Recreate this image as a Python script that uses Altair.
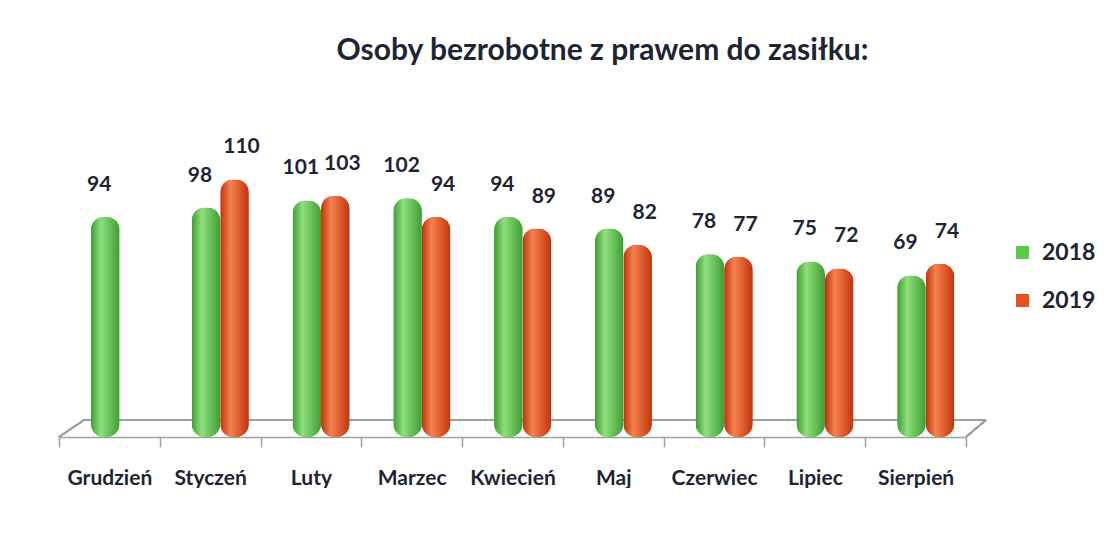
import altair as alt
import pandas as pd

months = ["Grudzień", "Styczeń", "Luty", "Marzec", "Kwiecień", "Maj", "Czerwiec", "Lipiec", "Sierpień"]
v2018 = [94, 98, 101, 102, 94, 89, 78, 75, 69]
v2019 = [None, 110, 103, 94, 89, 82, 77, 72, 74]
years = ["2018", "2019"]
colors = ["#5bc94a", "#e8521e"]

rows = []
for m, a, b in zip(months, v2018, v2019):
    rows.append({"miesiac": m, "rok": "2018", "wartosc": a})
    if b is not None:
        rows.append({"miesiac": m, "rok": "2019", "wartosc": b})
df = pd.DataFrame(rows)

FONT = "Lato"
TXT = "#1e2532"
FLOOR = "#9aa39c"
xscale = alt.Scale(domain=months, paddingInner=0, paddingOuter=0)
yscale = alt.Scale(domain=[0, 120])
offscale = alt.Scale(domain=years, range=[32, 89])

x = alt.X("miesiac:N", scale=xscale, sort=months,
          axis=alt.Axis(title=None, labelAngle=0, tickBand="extent", labelFont=FONT,
                        labelFontSize=21, labelFontWeight="bold", labelColor=TXT,
                        labelPadding=20, tickSize=10, tickColor=FLOOR, domainColor=FLOOR,
                        domainWidth=1.5, tickWidth=1.5))
xo = alt.XOffset("rok:N", scale=offscale)
y = alt.Y("wartosc:Q", scale=yscale, axis=None)

base = alt.Chart(df)

bars = base.mark_bar(cornerRadius=13).encode(
    x=x, xOffset=xo, y=y,
    color=alt.Color("rok:N", scale=alt.Scale(domain=years, range=colors),
                    legend=alt.Legend(title=None, orient="none", legendX=952, legendY=85,
                                      symbolType="square", symbolSize=170, symbolStrokeWidth=0,
                                      labelFont=FONT, labelFontSize=23, labelFontWeight="bold",
                                      labelColor=TXT, rowPadding=24, labelOffset=8)),
)

grad_green = alt.Gradient(gradient="linear", x1=0, x2=1, y1=0, y2=0, stops=[
    alt.GradientStop(offset=0, color="#3e9e33"),
    alt.GradientStop(offset=0.35, color="#8fe07c"),
    alt.GradientStop(offset=1, color="#3f9d34")])
grad_orange = alt.Gradient(gradient="linear", x1=0, x2=1, y1=0, y2=0, stops=[
    alt.GradientStop(offset=0, color="#c2320c"),
    alt.GradientStop(offset=0.35, color="#f5824f"),
    alt.GradientStop(offset=1, color="#c2330d")])

g = base.transform_filter(alt.datum.rok == "2018")
o = base.transform_filter(alt.datum.rok == "2019")

g_bars = g.mark_bar(cornerRadius=13, color=grad_green).encode(x=x, xOffset=xo, y=y)
o_bars = o.mark_bar(cornerRadius=13, color=grad_orange).encode(x=x, xOffset=xo, y=y)

g_labels = g.mark_text(dy=-32, dx=-6, font=FONT, fontSize=21, fontWeight="bold", color=TXT).encode(
    x=x, xOffset=xo, y=y, text=alt.Text("wartosc:Q"))
o_labels = o.mark_text(dy=-32, dx=7, font=FONT, fontSize=21, fontWeight="bold", color=TXT).encode(
    x=x, xOffset=xo, y=y, text=alt.Text("wartosc:Q"))

# 3D floor outline (decoration)
floor_back = base.mark_rule(color=FLOOR, strokeWidth=1.5).encode(
    x=alt.value(25), x2=alt.value(927), y=alt.value(264))
floor_left = base.mark_rule(color=FLOOR, strokeWidth=1.5).encode(
    x=alt.value(0), x2=alt.value(25), y=alt.value(281), y2=alt.value(264))
floor_right = base.mark_rule(color=FLOOR, strokeWidth=1.5).encode(
    x=alt.value(907), x2=alt.value(927), y=alt.value(281), y2=alt.value(264))

chart = alt.layer(floor_back, floor_left, floor_right, bars, g_bars, o_bars, g_labels, o_labels).properties(
    width=907, height=281,
    background="white",
    padding={"left": 50, "top": 28, "right": 0, "bottom": 0},
    title=alt.Title("Osoby bezrobotne z prawem do zasiłku:", font=FONT, fontSize=30, fontWeight="bold",
                    color=TXT, anchor="middle", dx=90, offset=70),
).configure_view(stroke=None)

chart.save("out.html", embed_options={"renderer": "svg", "actions": False})
